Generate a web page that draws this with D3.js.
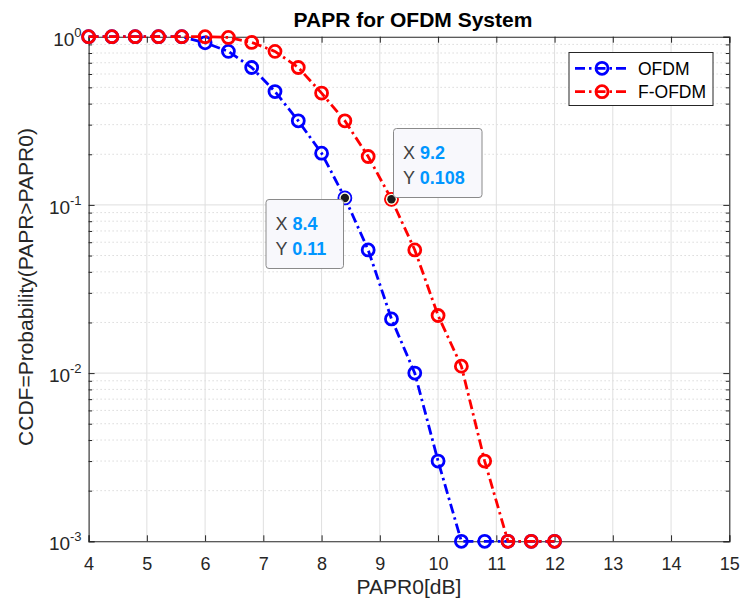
<!DOCTYPE html>
<html><head><meta charset="utf-8">
<script src="https://cdn.jsdelivr.net/npm/d3@7"></script>
<style>body{margin:0;background:#fff;} text{font-family:"Liberation Sans",Arial,sans-serif;}</style>
</head><body><svg id="c" width="742" height="601"></svg>
<script>
const xVals = [4,4.4,4.8,5.2,5.6,6,6.4,6.8,7.2,7.6,8,8.4,8.8,9.2,9.6,10,10.4,10.8,11.2,11.6,12];
const ofdm  = [1,1,1,1,1,0.92,0.818,0.656,0.472,0.316,0.203,0.11,0.054,0.021,0.01,0.003,0.001,0.001,0.001,0.001,0.001];
const fofdm = [1,1,1,1,1,1,0.99,0.925,0.818,0.656,0.462,0.316,0.194,0.108,0.054,0.022,0.011,0.003,0.001,0.001,0.001];
const seriesNames = ["OFDM","F-OFDM"];
const seriesColors = ["#0000ff","#ff0000"];
const xTicks = [4,5,6,7,8,9,10,11,12,13,14,15];
const yTicks = [1e-3,1e-2,1e-1,1];
const yTickExp = ["-3","-2","-1","0"];
const tips = [{s:0, x:8.4, y:0.11, xl:"8.4", yl:"0.11"},{s:1, x:9.2, y:0.108, xl:"9.2", yl:"0.108"}];
const title = "PAPR for OFDM System";
const xLabel = "PAPR0[dB]";
const yLabel = "CCDF=Probability(PAPR>PAPR0)";

const svg = d3.select("#c");
const L=88.6, R=729.3, T=36.7, B=541.3;
const x = d3.scaleLinear().domain([4,15]).range([L,R]);
const y = d3.scaleLog().domain([1e-3,1]).range([B,T]);
const axisCol="#262626";

const minor=[];
for(let e=-3;e<0;e++) for(let m=2;m<=9;m++) minor.push(m*Math.pow(10,e));

const g = svg.append("g");
g.selectAll(".mg").data(minor).join("line")
 .attr("x1",L).attr("x2",R).attr("y1",d=>y(d)).attr("y2",d=>y(d))
 .attr("stroke","#c8c8c8").attr("stroke-width",1).attr("stroke-dasharray","1,3");
g.selectAll(".gx").data(xTicks.slice(1,-1)).join("line")
 .attr("x1",d=>x(d)).attr("x2",d=>x(d)).attr("y1",T).attr("y2",B)
 .attr("stroke","#dfdfdf").attr("stroke-width",1);
g.selectAll(".gy").data(yTicks.slice(1,-1)).join("line")
 .attr("x1",L).attr("x2",R).attr("y1",d=>y(d)).attr("y2",d=>y(d))
 .attr("stroke","#dfdfdf").attr("stroke-width",1);

const xb = svg.append("g").attr("transform",`translate(0,${B})`)
 .call(d3.axisBottom(x).tickValues(xTicks).tickSize(-6).tickPadding(16).tickFormat(d3.format("d")));
const xt = svg.append("g").attr("transform",`translate(0,${T})`)
 .call(d3.axisTop(x).tickValues(xTicks).tickSize(-6).tickFormat(""));
const yl = svg.append("g").attr("transform",`translate(${L},0)`)
 .call(d3.axisLeft(y).tickValues(yTicks).tickSize(-6).tickFormat(""));
const yr = svg.append("g").attr("transform",`translate(${R},0)`)
 .call(d3.axisRight(y).tickValues(yTicks).tickSize(-6).tickFormat(""));
const ylm = svg.append("g").attr("transform",`translate(${L},0)`)
 .call(d3.axisLeft(y).tickValues(minor).tickSize(-3.5).tickFormat(""));
const yrm = svg.append("g").attr("transform",`translate(${R},0)`)
 .call(d3.axisRight(y).tickValues(minor).tickSize(-3.5).tickFormat(""));
[xb,xt,yl,yr,ylm,yrm].forEach(a=>{
  a.selectAll("path").attr("stroke",axisCol).attr("stroke-width",1.1);
  a.selectAll("line").attr("stroke",axisCol).attr("stroke-width",1);
  a.selectAll("text").attr("fill",axisCol).attr("font-size",18).attr("font-family","Liberation Sans, Arial, sans-serif");
});
[ylm,yrm].forEach(a=>a.select("path").remove());

const ytl = svg.append("g");
yTicks.forEach((v,i)=>{
  const t = ytl.append("text").attr("x",L-7).attr("y",y(v)+9).attr("text-anchor","end")
    .attr("fill",axisCol).attr("font-size",19);
  t.append("tspan").text("10");
  t.append("tspan").attr("dy",-9).attr("font-size",13).text(yTickExp[i]);
});

const data=[ofdm,fofdm];
const line = d3.line().x((d,i)=>x(xVals[i])).y(d=>y(d));
data.forEach((s,k)=>{
  svg.append("path").datum(s).attr("d",line).attr("fill","none")
   .attr("stroke",seriesColors[k]).attr("stroke-width",2.8).attr("stroke-dasharray","10,4,2.5,4");
  svg.append("g").selectAll("circle").data(s).join("circle")
   .attr("cx",(d,i)=>x(xVals[i])).attr("cy",d=>y(d)).attr("r",6)
   .attr("fill","none").attr("stroke",seriesColors[k]).attr("stroke-width",2.8);
});

tips.forEach(t=>{
  const px=x(t.x), py=y(t.y);
  svg.append("circle").attr("cx",px).attr("cy",py).attr("r",6.3).attr("fill","#fffde0").attr("stroke",seriesColors[t.s]).attr("stroke-width",1.3);
  svg.append("circle").attr("cx",px).attr("cy",py).attr("r",4.2).attr("fill","#1a1a1a");
});
const boxes=[{x0:266,y0:199.5,w:77.5,h:69},{x0:393.5,y0:128.5,w:88.5,h:69}];
tips.forEach((t,i)=>{
  const b=boxes[i];
  svg.append("rect").attr("x",b.x0).attr("y",b.y0).attr("width",b.w).attr("height",b.h)
   .attr("rx",3).attr("fill","#f8f8fc").attr("stroke","#8a8a8a").attr("stroke-width",1);
  const r1 = svg.append("text").attr("x",b.x0+9.5).attr("y",b.y0+30).attr("font-size",18);
  r1.append("tspan").attr("fill","#404040").text("X ");
  r1.append("tspan").attr("fill","#0096ff").attr("font-weight","bold").text(t.xl);
  const r2 = svg.append("text").attr("x",b.x0+9.5).attr("y",b.y0+55).attr("font-size",18);
  r2.append("tspan").attr("fill","#404040").text("Y ");
  r2.append("tspan").attr("fill","#0096ff").attr("font-weight","bold").text(t.yl);
});

const lg = svg.append("g");
lg.append("rect").attr("x",569).attr("y",52.5).attr("width",144).attr("height",53)
 .attr("fill","#fff").attr("stroke",axisCol).attr("stroke-width",1);
seriesNames.forEach((n,k)=>{
  const cy = 68.3 + k*23.4;
  lg.append("line").attr("x1",575).attr("x2",628).attr("y1",cy).attr("y2",cy)
   .attr("stroke",seriesColors[k]).attr("stroke-width",2.8).attr("stroke-dasharray","10,4,2.5,4");
  lg.append("circle").attr("cx",602).attr("cy",cy).attr("r",6).attr("fill","none")
   .attr("stroke",seriesColors[k]).attr("stroke-width",2.8);
  lg.append("text").attr("x",638).attr("y",cy+6.3).attr("font-size",17.5).attr("fill","#000").text(n);
});

svg.append("text").attr("x",(L+R)/2+4).attr("y",27).attr("text-anchor","middle")
 .attr("font-size",21).attr("font-weight","bold").attr("fill","#000").text(title);
svg.append("text").attr("x",(L+R)/2).attr("y",594).attr("text-anchor","middle")
 .attr("font-size",21).attr("fill",axisCol).text(xLabel);
svg.append("text").attr("transform",`translate(33,${(T+B)/2-2}) rotate(-90)`).attr("text-anchor","middle")
 .attr("font-size",21).attr("fill",axisCol).text(yLabel);
</script></body></html>
